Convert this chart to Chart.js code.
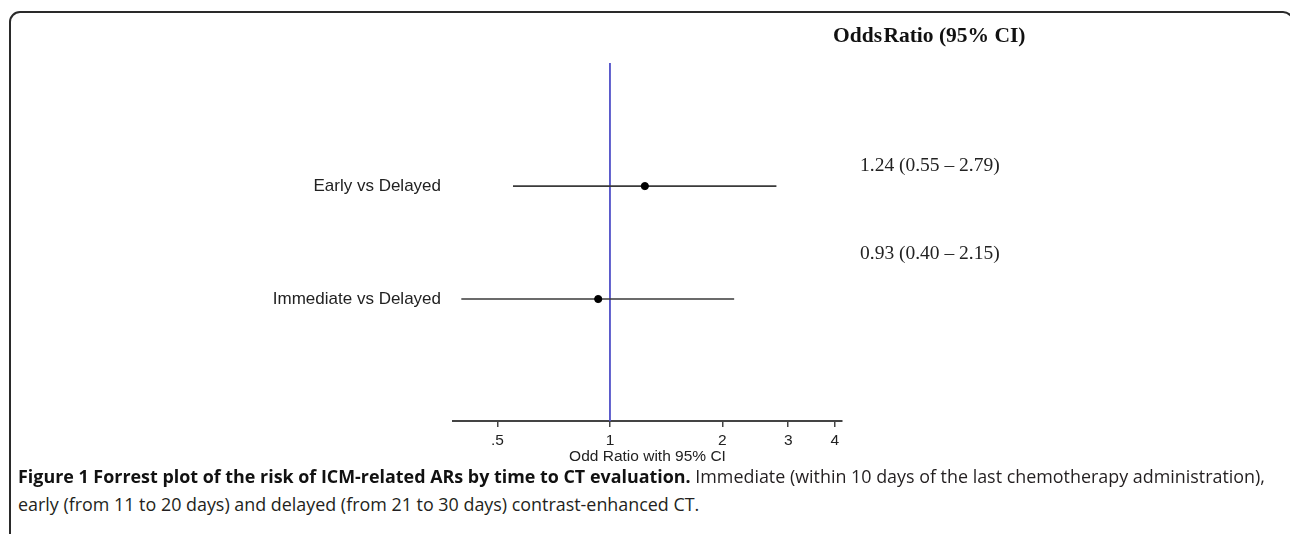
<!DOCTYPE html>
<html>
<head>
<meta charset="utf-8">
<script src="https://cdn.jsdelivr.net/npm/chart.js@4.4.1/dist/chart.umd.min.js"></script>
<style>
  html, body { margin: 0; padding: 0; background: #fff; }
  body { width: 1290px; height: 534px; position: relative; overflow: hidden; }
  #frame { position: absolute; left: 9px; top: 11px; width: 1281px; height: 600px;
           border: 2px solid #2a2a2a; border-radius: 11px; }
  #chartBox { position: absolute; left: 0; top: 0; width: 1290px; height: 471px; }
  .hdr { position: absolute; left: 833px; top: 23px; font-family: "Liberation Serif", serif;
         font-weight: bold; font-size: 21.5px; color: #111; white-space: nowrap; }
  .hdr span { margin-right: -4px; }
  .est { position: absolute; left: 860px; font-family: "Liberation Serif", serif;
         font-size: 19.5px; color: #222; white-space: nowrap; }
  .cap { position: absolute; left: 18px; font-family: "Open Sans", sans-serif; font-size: 17.9px;
         color: #231f20; white-space: nowrap; }
  .cap b { color: #111; }
</style>
</head>
<body>
<div id="frame"></div>
<div id="chartBox"><canvas id="c"></canvas></div>
<div class="hdr"><span>Odds</span> Ratio (95% CI)</div>
<div class="est" id="est0"></div>
<div class="est" id="est1"></div>
<div class="cap" style="top:464px"><b>Figure 1 Forrest plot of the risk of ICM-related ARs by time to CT evaluation.</b> Immediate (within 10 days of the last chemotherapy administration),</div>
<div class="cap" style="top:492px">early (from 11 to 20 days) and delayed (from 21 to 30 days) contrast-enhanced CT.</div>
<script>
// ---- data ----
const comparisons = ["Early vs Delayed", "Immediate vs Delayed"];
const oddsRatio   = [1.24, 0.93];
const ciLower     = [0.55, 0.40];
const ciUpper     = [2.79, 2.15];
const xTicks      = [0.5, 1, 2, 3, 4];
const xTickLabels = [".5", "1", "2", "3", "4"];
const refValue    = 1;

const fmt = v => v.toFixed(2);
document.getElementById('est0').textContent = fmt(oddsRatio[0]) + " (" + fmt(ciLower[0]) + " \u2013 " + fmt(ciUpper[0]) + ")";
document.getElementById('est1').textContent = fmt(oddsRatio[1]) + " (" + fmt(ciLower[1]) + " \u2013 " + fmt(ciUpper[1]) + ")";
document.getElementById('est0').style.top = "154px";
document.getElementById('est1').style.top = "242px";

const rowY = comparisons.map((_, i) => comparisons.length - i);

const datasets = [];
comparisons.forEach((name, i) => {
  datasets.push({
    type: 'line',
    label: name + ' CI',
    data: [{x: ciLower[i], y: rowY[i]}, {x: ciUpper[i], y: rowY[i]}],
    borderColor: '#3a3a3a', borderWidth: 1.6, pointRadius: 0, showLine: true, order: 2
  });
});
datasets.push({
  type: 'scatter',
  label: 'OR',
  data: comparisons.map((_, i) => ({x: oddsRatio[i], y: rowY[i]})),
  backgroundColor: '#000', borderColor: '#000', pointRadius: 3.6, order: 1
});

const refLine = {
  id: 'refLine',
  beforeDatasetsDraw(chart) {
    const {ctx, chartArea, scales} = chart;
    const x = scales.x.getPixelForValue(refValue);
    ctx.save();
    ctx.strokeStyle = '#4f4fc8';
    ctx.lineWidth = 1.8;
    ctx.beginPath();
    ctx.moveTo(x, chartArea.top);
    ctx.lineTo(x, chartArea.bottom);
    ctx.stroke();
    ctx.restore();
  }
};

new Chart(document.getElementById('c'), {
  data: { datasets },
  options: {
    responsive: true,
    maintainAspectRatio: false,
    animation: false,
    layout: { padding: { left: 0, right: 448, top: 63, bottom: 0 } },
    plugins: { legend: { display: false }, tooltip: { enabled: false } },
    scales: {
      x: {
        type: 'logarithmic',
        min: 0.38, max: 4.18,
        afterBuildTicks: s => { s.ticks = xTicks.map(v => ({value: v})); },
        afterFit: s => { s.height = 50; },
        ticks: {
          callback: (v) => { const k = xTicks.indexOf(v); return k >= 0 ? xTickLabels[k] : ''; },
          font: { family: 'Liberation Sans, Arial', size: 15.5 }, color: '#222', padding: 4,
          maxRotation: 0, autoSkip: false
        },
        grid: { drawOnChartArea: false, drawTicks: true, tickLength: 6, color: '#444', lineWidth: 1.5 },
        border: { display: true, color: '#444', width: 2 },
        title: { display: true, text: 'Odd Ratio with 95% CI',
                 font: { family: 'Liberation Sans, Arial', size: 15.5 }, color: '#222', padding: {top: 0, bottom: 5} }
      },
      y: {
        type: 'linear',
        min: -0.08, max: 3.09,
        afterBuildTicks: s => { s.ticks = rowY.map(v => ({value: v})); },
        afterFit: s => { s.width = 453; },
        ticks: {
          callback: (v) => { const k = rowY.indexOf(v); return k >= 0 ? comparisons[k] : ''; },
          font: { family: 'Liberation Sans, Arial', size: 17 }, color: '#222', padding: 12
        },
        grid: { display: false, drawTicks: false },
        border: { display: false }
      }
    }
  },
  plugins: [refLine]
});
</script>
</body>
</html>
